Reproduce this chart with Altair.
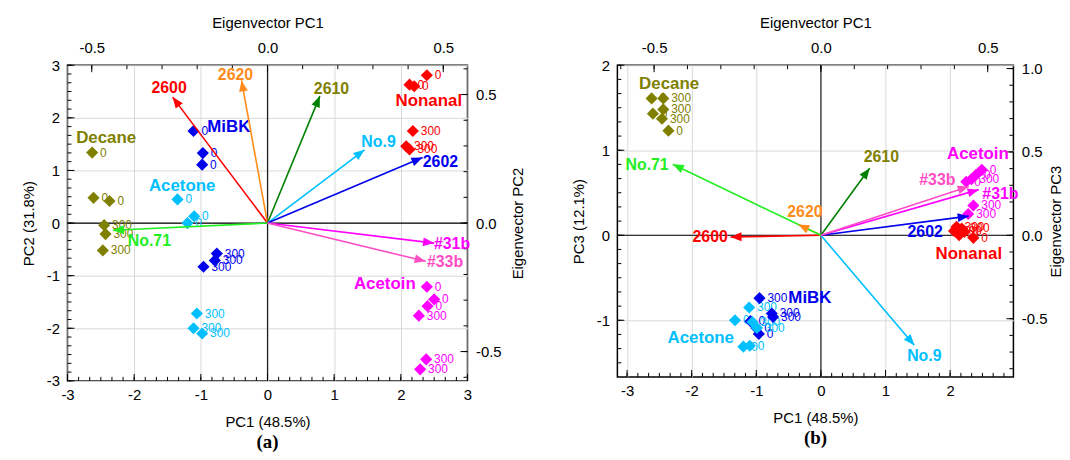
import math
import altair as alt
import pandas as pd

FONT = "Liberation Sans"

# ---------------- shared categories ----------------
group_names = ["Decane", "MiBK", "Acetone", "Nonanal", "Acetoin"]
group_colors = ["#808000", "#0000EE", "#00BFFF", "#FF0000", "#FF00FF"]
dose_labels = ["0", "0", "0", "300", "300", "300"]

var_names = ["2600", "2620", "2610", "No.9", "2602", "#31b", "#33b", "No.71"]
arrow_colors = ["#FF0000", "#FF8C1A", "#008000", "#00BFFF", "#0000EE", "#FF00FF", "#FF4DC4", "#22EE22"]
varlabel_colors = ["#FF0000", "#FF8C1A", "#808000", "#00BFFF", "#0000EE", "#FF00FF", "#FF4DC4", "#22EE22"]

# ---------------- panel (a): PC1 vs PC2 scores ----------------
a_decane_pc1 = [-2.63, -2.61, -2.37, -2.45, -2.43, -2.47]
a_decane_pc2 = [1.34, 0.48, 0.42, -0.04, -0.21, -0.52]
a_mibk_pc1 = [-1.11, -0.97, -0.98, -0.76, -0.79, -0.96]
a_mibk_pc2 = [1.75, 1.33, 1.11, -0.58, -0.71, -0.83]
a_acetone_pc1 = [-1.35, -1.10, -1.20, -1.06, -1.11, -0.98]
a_acetone_pc2 = [0.45, 0.13, 0.00, -1.72, -2.00, -2.10]
a_nonanal_pc1 = [2.39, 2.13, 2.20, 2.18, 2.08, 2.13]
a_nonanal_pc2 = [2.81, 2.63, 2.60, 1.75, 1.46, 1.40]
a_acetoin_pc1 = [2.39, 2.50, 2.40, 2.27, 2.38, 2.29]
a_acetoin_pc2 = [-1.21, -1.45, -1.58, -1.76, -2.59, -2.78]
a_group_label_pc1 = [-2.42, -0.58, -1.28, 2.42, 1.76]
a_group_label_pc2 = [1.61, 1.82, 0.70, 2.31, -1.15]

# panel (a) eigenvectors (loadings)
a_load_pc1 = [-0.270, -0.074, 0.149, 0.276, 0.441, 0.474, 0.450, -0.440]
a_load_pc2 = [0.490, 0.555, 0.494, 0.285, 0.255, -0.078, -0.149, -0.028]
a_varlabel_pc1 = [-0.280, -0.091, 0.182, 0.316, 0.492, 0.525, 0.505, -0.336]
a_varlabel_pc2 = [0.525, 0.574, 0.522, 0.314, 0.239, -0.082, -0.153, -0.069]

# ---------------- panel (b): PC1 vs PC3 scores ----------------
b_decane_pc1 = [-2.62, -2.60, -2.36, -2.44, -2.44, -2.46]
b_decane_pc3 = [1.61, 1.43, 1.23, 1.61, 1.48, 1.37]
b_mibk_pc1 = [-1.09, -1.00, -0.96, -0.95, -0.76, -0.74]
b_mibk_pc3 = [-1.01, -1.09, -1.16, -0.74, -0.92, -0.96]
b_acetone_pc1 = [-1.33, -1.20, -1.10, -1.11, -1.06, -0.99]
b_acetone_pc3 = [-1.00, -1.31, -1.30, -0.85, -1.02, -1.09]
b_nonanal_pc1 = [2.14, 2.22, 2.36, 2.10, 2.18, 2.06]
b_nonanal_pc3 = [0.00, 0.04, -0.03, 0.10, 0.08, 0.05]
b_acetoin_pc1 = [2.49, 2.40, 2.25, 2.33, 2.36, 2.28]
b_acetoin_pc3 = [0.77, 0.71, 0.63, 0.66, 0.35, 0.25]
b_group_label_pc1 = [-2.35, -0.17, -1.86, 2.29, 2.43]
b_group_label_pc3 = [1.78, -0.74, -1.21, -0.22, 0.95]

b_load_pc1 = [-0.271, -0.068, 0.146, 0.280, 0.443, 0.473, 0.443, -0.444]
b_load_pc3 = [-0.010, 0.065, 0.402, -0.659, 0.115, 0.274, 0.293, 0.426]
b_varlabel_pc1 = [-0.332, -0.048, 0.181, 0.310, 0.3125, 0.538, 0.349, -0.521]
b_varlabel_pc3 = [-0.010, 0.140, 0.472, -0.724, 0.021, 0.248, 0.333, 0.423]

# ---------------- axis tick values ----------------
score_major = [-3, -2, -1, 0, 1, 2, 3]
score_minor = [k / 6 for k in range(-19, 19)]
load_major = [-0.5, 0.0, 0.5]
load_minor = [k / 10 for k in range(-9, 11)]
b_right_major = [-0.5, 0.0, 0.5, 1.0]

INT_EXPR = "datum.value < 0 ? '-' + abs(datum.value) : '' + datum.value"
DEC_EXPR = "datum.value < 0 ? '-' + format(abs(datum.value), '.1f') : format(datum.value, '.1f')"
HEAD = "M0,0L0.6,1.5L-0.6,1.5Z"


def scores_df(xs_list, ys_list):
    rows = []
    for g, c, xs, ys in zip(group_names, group_colors, xs_list, ys_list):
        for x, y, d in zip(xs, ys, dose_labels):
            rows.append({"sx": x, "sy": y, "dose": d, "group": g, "col": c})
    return pd.DataFrame(rows)


def sc(dom):
    return alt.Scale(domain=dom, nice=False, zero=False)


def panel(scores, glx, gly, lx, ly, vlx, vly, W, H, xdom, ydom, lxdom, lydom,
          ymajor, rmajor, ytitle, rtitle, tag, rpad):
    xs, ys, lxs, lys = sc(xdom), sc(ydom), sc(lxdom), sc(lydom)

    def in_dom(vals, dom):
        return [v for v in vals if dom[0] - 1e-9 <= v <= dom[1] + 1e-9]

    zero = pd.DataFrame({"v": [0.0]})
    zx = alt.Chart(zero).mark_rule(color="#222222", strokeWidth=1.2).encode(
        x=alt.X("v:Q", scale=xs, axis=None))
    zy = alt.Chart(zero).mark_rule(color="black", strokeWidth=1.2).encode(
        y=alt.Y("v:Q", scale=ys, axis=None))

    def tx(vals, dom, scale, length, bottom):
        df = pd.DataFrame({"v": in_dom(vals, dom)})
        return alt.Chart(df).mark_rule(color="black", strokeWidth=1).encode(
            x=alt.X("v:Q", scale=scale, axis=None),
            y=alt.value(H if bottom else 0),
            y2=alt.value(H - length if bottom else length))

    def ty(vals, dom, scale, length, left):
        df = pd.DataFrame({"v": in_dom(vals, dom)})
        return alt.Chart(df).mark_rule(color="black", strokeWidth=1).encode(
            y=alt.Y("v:Q", scale=scale, axis=None),
            x=alt.value(0 if left else W),
            x2=alt.value(length if left else W - length))

    base_axis = dict(ticks=False, domain=False, labelFontSize=15, titleFontSize=15,
                     labelFont=FONT, titleFont=FONT, titleFontWeight="normal",
                     labelColor="black", titleColor="black", labelFlush=False)

    pts_labels = alt.Chart(scores).mark_text(
        align="left", baseline="middle", dx=8, fontSize=12, font=FONT).encode(
        x=alt.X("sx:Q", scale=xs, axis=None),
        y=alt.Y("sy:Q", scale=ys, axis=None),
        text="dose:N", color=alt.Color("col:N", scale=None))

    axis_holder = alt.Chart(scores).mark_point(opacity=0, size=1).encode(
        x=alt.X("sx:Q", scale=xs, title="PC1 (48.5%)",
                axis=alt.Axis(orient="bottom", values=score_major, grid=True, gridColor="#d9d9d9",
                              labelExpr=INT_EXPR, labelPadding=7, titlePadding=12, **base_axis)),
        y=alt.Y("sy:Q", scale=ys, title=ytitle,
                axis=alt.Axis(orient="left", values=ymajor, grid=True, gridColor="#d9d9d9",
                              labelExpr=INT_EXPR, labelPadding=8, titlePadding=10, **base_axis)))

    pts = alt.Chart(scores).mark_point(shape="diamond", filled=True, size=150, opacity=1).encode(
        x=alt.X("sx:Q", scale=xs, axis=None),
        y=alt.Y("sy:Q", scale=ys, axis=None),
        color=alt.Color("col:N", scale=None))

    gdf = pd.DataFrame({"gx": glx, "gy": gly, "group": group_names, "col": group_colors})
    glabels = alt.Chart(gdf).mark_text(fontWeight="bold", fontSize=17, font=FONT).encode(
        x=alt.X("gx:Q", scale=xs, axis=None),
        y=alt.Y("gy:Q", scale=ys, axis=None),
        text="group:N", color=alt.Color("col:N", scale=None))

    pxx = W / (lxdom[1] - lxdom[0])
    pxy = H / (lydom[1] - lydom[0])
    ang = [math.degrees(math.atan2(a * pxx, b * pxy)) % 360 for a, b in zip(lx, ly)]
    vdf = pd.DataFrame({"lx": lx, "ly": ly, "lx0": [0.0] * len(lx), "ly0": [0.0] * len(lx),
                        "ang": ang, "name": var_names, "acol": arrow_colors,
                        "tcol": varlabel_colors, "tx": vlx, "ty": vly})

    arrows = alt.Chart(vdf).mark_rule(strokeWidth=1.6).encode(
        x=alt.X("lx0:Q", scale=lxs, axis=None), x2="lx:Q",
        y=alt.Y("ly0:Q", scale=lys, axis=None), y2="ly:Q",
        color=alt.Color("acol:N", scale=None))
    heads = alt.Chart(vdf).mark_point(shape=HEAD, filled=True, size=220, opacity=1).encode(
        x=alt.X("lx:Q", scale=lxs, axis=None),
        y=alt.Y("ly:Q", scale=lys, axis=None),
        angle=alt.Angle("ang:Q", scale=None),
        color=alt.Color("acol:N", scale=None))
    vlabels = alt.Chart(vdf).mark_text(fontWeight="bold", fontSize=16, font=FONT).encode(
        x=alt.X("tx:Q", scale=lxs, title="Eigenvector PC1",
                axis=alt.Axis(orient="top", values=load_major, grid=False,
                              labelExpr=DEC_EXPR, labelPadding=10, titlePadding=10, **base_axis)),
        y=alt.Y("ty:Q", scale=lys, title=rtitle,
                axis=alt.Axis(orient="right", values=rmajor, grid=False, titleAngle=270,
                              labelExpr=DEC_EXPR, labelPadding=8, titlePadding=rpad, **base_axis)),
        text="name:N", color=alt.Color("tcol:N", scale=None))

    layers = [
        axis_holder, zx, zy,
        tx(score_minor, xdom, xs, 4, True), tx(score_major, xdom, xs, 7, True),
        ty(score_minor, ydom, ys, 4, True), ty(score_major, ydom, ys, 7, True),
        tx(load_minor, lxdom, lxs, 4, False), tx(load_major, lxdom, lxs, 7, False),
        ty(load_minor, lydom, lys, 4, False), ty(rmajor, lydom, lys, 7, False),
        pts_labels, pts, glabels, arrows, heads, vlabels,
    ]
    return alt.layer(*layers).resolve_scale(
        x="independent", y="independent").properties(
        width=W, height=H,
        title=alt.Title(tag, orient="bottom", font="Liberation Serif", fontSize=19,
                        fontWeight="bold", color="black", offset=4))


chart_a = panel(
    scores_df([a_decane_pc1, a_mibk_pc1, a_acetone_pc1, a_nonanal_pc1, a_acetoin_pc1],
              [a_decane_pc2, a_mibk_pc2, a_acetone_pc2, a_nonanal_pc2, a_acetoin_pc2]),
    a_group_label_pc1, a_group_label_pc2, a_load_pc1, a_load_pc2, a_varlabel_pc1, a_varlabel_pc2,
    W=403, H=318, xdom=[-3, 3], ydom=[-3, 3], lxdom=[-0.569, 0.569], lydom=[-0.614, 0.614],
    ymajor=score_major, rmajor=load_major, ytitle="PC2 (31.8%)", rtitle="Eigenvector PC2", tag="(a)",
    rpad=25)

chart_b = panel(
    scores_df([b_decane_pc1, b_mibk_pc1, b_acetone_pc1, b_nonanal_pc1, b_acetoin_pc1],
              [b_decane_pc3, b_mibk_pc3, b_acetone_pc3, b_nonanal_pc3, b_acetoin_pc3]),
    b_group_label_pc1, b_group_label_pc3, b_load_pc1, b_load_pc3, b_varlabel_pc1, b_varlabel_pc3,
    W=399, H=314, xdom=[-3.15, 2.98], ydom=[-1.666, 2.0], lxdom=[-0.610, 0.577], lydom=[-0.849, 1.020],
    ymajor=[-1, 0, 1, 2], rmajor=b_right_major, ytitle="PC3 (12.1%)", rtitle="Eigenvector PC3", tag="(b)",
    rpad=17)

chart = alt.hconcat(chart_a, chart_b, spacing=43).properties(
    padding={"left": 20, "top": 13, "right": 5, "bottom": 5},
    background="white").configure_view(stroke="black", strokeWidth=1.5)

chart.save("out.html", embed_options={"renderer": "svg", "actions": False})
